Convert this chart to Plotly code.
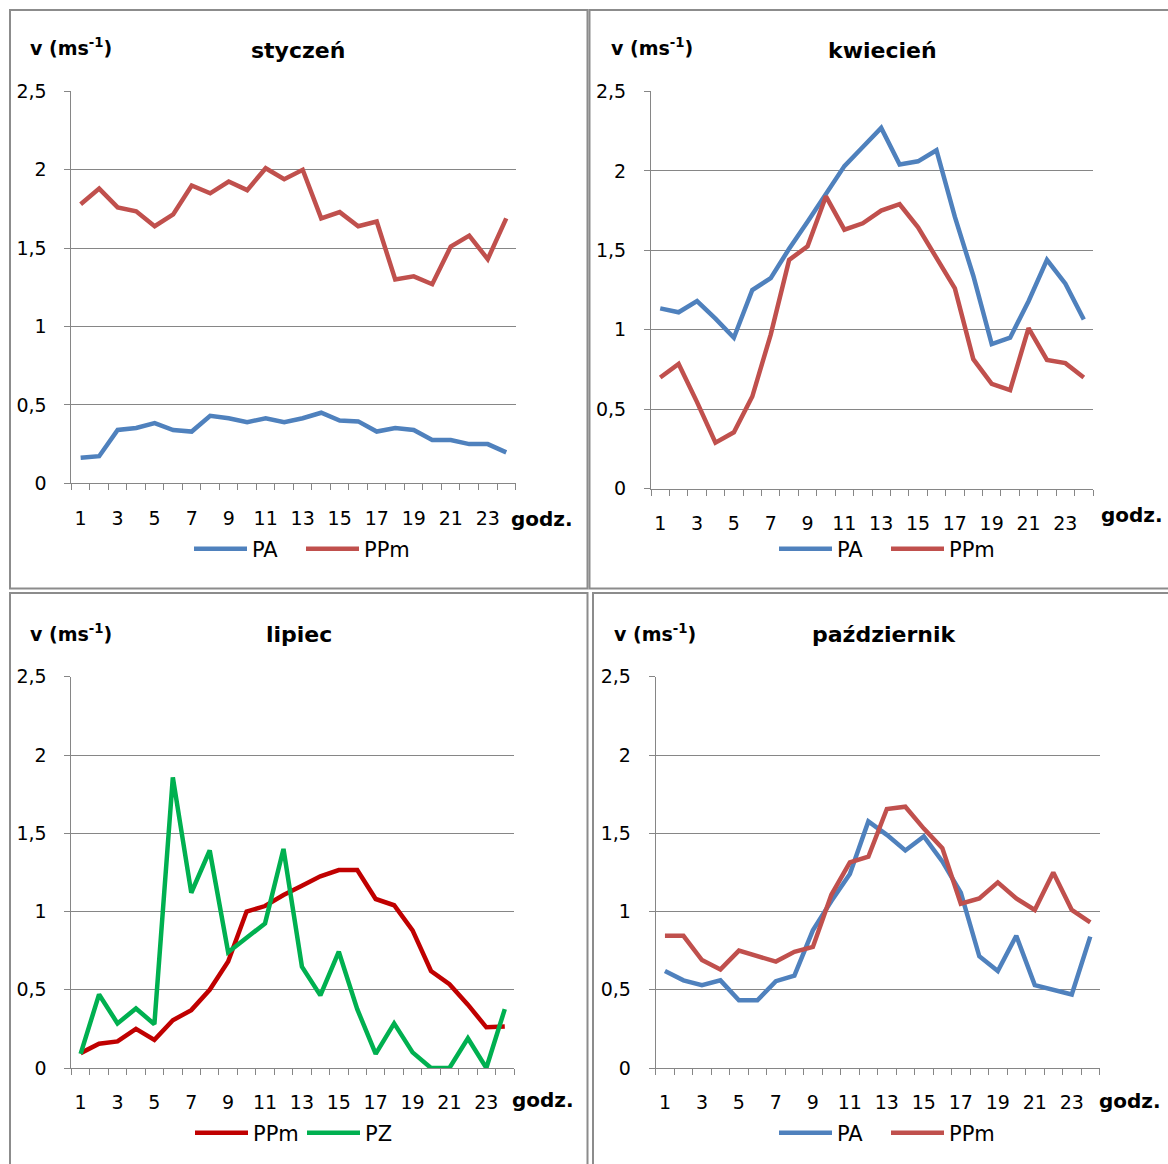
import plotly.graph_objects as go

# Hourly mean wind speed v (m/s) for four months, hours 1..24
hours = list(range(1, 25))

sty_PA = [0.163, 0.173, 0.34, 0.353, 0.384, 0.34, 0.33, 0.43, 0.415, 0.39, 0.415, 0.39,
          0.415, 0.45, 0.40, 0.395, 0.33, 0.353, 0.34, 0.276, 0.276, 0.25, 0.25, 0.197]
sty_PPm = [1.78, 1.88, 1.76, 1.735, 1.64, 1.715, 1.90, 1.85, 1.925, 1.87, 2.01, 1.94,
           2.0, 1.69, 1.73, 1.64, 1.67, 1.30, 1.32, 1.27, 1.51, 1.58, 1.43, 1.69]

kwi_PA = [1.135, 1.11, 1.18, 1.07, 0.95, 1.25, 1.325, 1.51, 1.68, 1.86, 2.03, 2.15,
          2.27, 2.04, 2.06, 2.13, 1.71, 1.34, 0.91, 0.95, 1.18, 1.44, 1.29, 1.065]
kwi_PPm = [0.70, 0.785, 0.545, 0.29, 0.355, 0.58, 0.97, 1.44, 1.525, 1.84, 1.63, 1.67,
           1.75, 1.79, 1.645, 1.455, 1.26, 0.815, 0.66, 0.62, 1.01, 0.81, 0.79, 0.70]

lip_PPm = [0.095, 0.155, 0.17, 0.25, 0.18, 0.305, 0.37, 0.50, 0.68, 1.0, 1.035, 1.105,
           1.165, 1.225, 1.265, 1.265, 1.08, 1.04, 0.88, 0.62, 0.535, 0.405, 0.26, 0.265]
lip_PZ = [0.09, 0.47, 0.285, 0.38, 0.28, 1.857, 1.12, 1.39, 0.74, 0.833, 0.924, 1.40,
          0.648, 0.464, 0.743, 0.376, 0.09, 0.285, 0.10, 0.0, 0.0, 0.19, 0.0, 0.376]

paz_PA = [0.62, 0.56, 0.53, 0.56, 0.433, 0.433, 0.555, 0.59, 0.88, 1.067, 1.24, 1.576,
          1.49, 1.39, 1.48, 1.32, 1.12, 0.714, 0.62, 0.845, 0.53, 0.50, 0.47, 0.84]
paz_PPm = [0.845, 0.845, 0.69, 0.63, 0.75, 0.714, 0.68, 0.743, 0.774, 1.107, 1.314, 1.35,
           1.655, 1.67, 1.53, 1.405, 1.05, 1.083, 1.186, 1.083, 1.01, 1.25, 1.01, 0.93]

titles = ["styczeń", "kwiecień", "lipiec", "październik"]
x_ticks = [1, 3, 5, 7, 9, 11, 13, 15, 17, 19, 21, 23]
y_ticks = [0, 0.5, 1, 1.5, 2, 2.5]

BLUE = "#4F81BD"
RED = "#C0504D"
DARK_RED = "#C00000"
GREEN = "#00B050"
GRID = "#868686"
FONT = "DejaVu Sans"

W, H = 1168, 1164


def px(x):
    return x / W


def py(y):
    return 1 - y / H


# plot areas in pixels: (left, right, top, bottom)
areas = [
    (71.4, 515.5, 91.4, 483.3),
    (651.0, 1093.0, 91.4, 488.7),
    (71.4, 514.0, 676.8, 1068.0),
    (655.7, 1099.5, 676.8, 1068.0),
]

series = [
    [("PA", sty_PA, BLUE), ("PPm", sty_PPm, RED)],
    [("PA", kwi_PA, BLUE), ("PPm", kwi_PPm, RED)],
    [("PPm", lip_PPm, DARK_RED), ("PZ", lip_PZ, GREEN)],
    [("PA", paz_PA, BLUE), ("PPm", paz_PPm, RED)],
]

fig = go.Figure()
layout = dict(
    width=W, height=H,
    margin=dict(l=0, r=0, t=0, b=0, autoexpand=False),
    paper_bgcolor="white", plot_bgcolor="white",
    separators=", ",
    font=dict(family=FONT, size=18, color="black"),
    showlegend=True,
)

annotations = []
shapes = []

# title / label positions per panel (pixels)
title_pos = [(298, 51), (882, 51), (299, 634), (884, 634)]
vlabel_pos = [(28, 47), (609, 47), (28, 633), (612, 633)]
godz_pos = [(509, 519), (1099, 515), (510, 1100), (1097, 1101)]
legend_pos = [(301, 549), (886, 549), (302, 1133), (886, 1133)]
xlabel_standoff = [18, 17, 17, 17]
borders = [(10, 587.5, 10, 588.5), (589.5, 1172, 10, 588.5),
           (10, 587.5, 593, 1172), (593, 1172, 593, 1172)]

for i in range(4):
    n = "" if i == 0 else str(i + 1)
    left, right, top, bottom = areas[i]
    leg = "legend" if i == 0 else f"legend{i + 1}"

    for name, vals, col in series[i]:
        fig.add_trace(go.Scatter(
            x=hours, y=vals, name=name, mode="lines",
            line=dict(color=col, width=4.5),
            xaxis="x" + n, yaxis="y" + n, legend=leg,
        ))

    layout["xaxis" + n] = dict(
        domain=[px(left), px(right)], anchor="y" + n,
        range=[0.5, 24.5], tickmode="array", tickvals=x_ticks,
        ticks="", showgrid=False, zeroline=False,
        showline=True, linecolor=GRID, linewidth=1,
        tickfont=dict(family=FONT, size=19), ticklabelstandoff=xlabel_standoff[i],
        minor=dict(tick0=0.5, dtick=1, ticks="outside", ticklen=6,
                   tickcolor=GRID, tickwidth=1, showgrid=False),
    )
    layout["yaxis" + n] = dict(
        domain=[py(bottom), py(top)], anchor="x" + n,
        range=[0, 2.5], tickmode="array", tickvals=y_ticks,
        ticks="outside", ticklen=6, tickcolor=GRID, tickwidth=1,
        showgrid=True, gridcolor=GRID, gridwidth=1, zeroline=False,
        showline=True, linecolor=GRID, linewidth=1,
        tickfont=dict(family=FONT, size=19), ticklabelstandoff=14,
    )

    lx, ly = legend_pos[i]
    layout[leg] = dict(
        orientation="h", x=px(lx), y=py(ly), xanchor="center", yanchor="middle",
        font=dict(family=FONT, size=21), bgcolor="rgba(0,0,0,0)",
        itemwidth=53, tracegroupgap=0, entrywidth=44, entrywidthmode="pixels",
    )

    tx, ty = title_pos[i]
    annotations.append(dict(
        text=f"<b>{titles[i]}</b>", x=px(tx), y=py(ty), xref="paper", yref="paper",
        xanchor="center", yanchor="middle", showarrow=False,
        font=dict(family=FONT, size=22, color="black"),
    ))
    vx, vy = vlabel_pos[i]
    annotations.append(dict(
        text="<b>v (ms<sup>-1</sup>)</b>", x=px(vx), y=py(vy), xref="paper", yref="paper",
        xanchor="left", yanchor="middle", showarrow=False,
        font=dict(family=FONT, size=19, color="black"),
    ))
    gx, gy = godz_pos[i]
    annotations.append(dict(
        text="<b>godz.</b>", x=px(gx), y=py(gy), xref="paper", yref="paper",
        xanchor="left", yanchor="middle", showarrow=False,
        font=dict(family=FONT, size=20, color="black"),
    ))

    x0, x1, y0, y1 = borders[i]
    shapes.append(dict(
        type="rect", xref="paper", yref="paper",
        x0=px(x0), x1=px(x1), y0=py(y1), y1=py(y0),
        line=dict(color="#8c8c8c", width=2), fillcolor="rgba(0,0,0,0)", layer="below",
    ))

layout["annotations"] = annotations
layout["shapes"] = shapes
fig.update_layout(**layout)

fig.write_html("out.html")
